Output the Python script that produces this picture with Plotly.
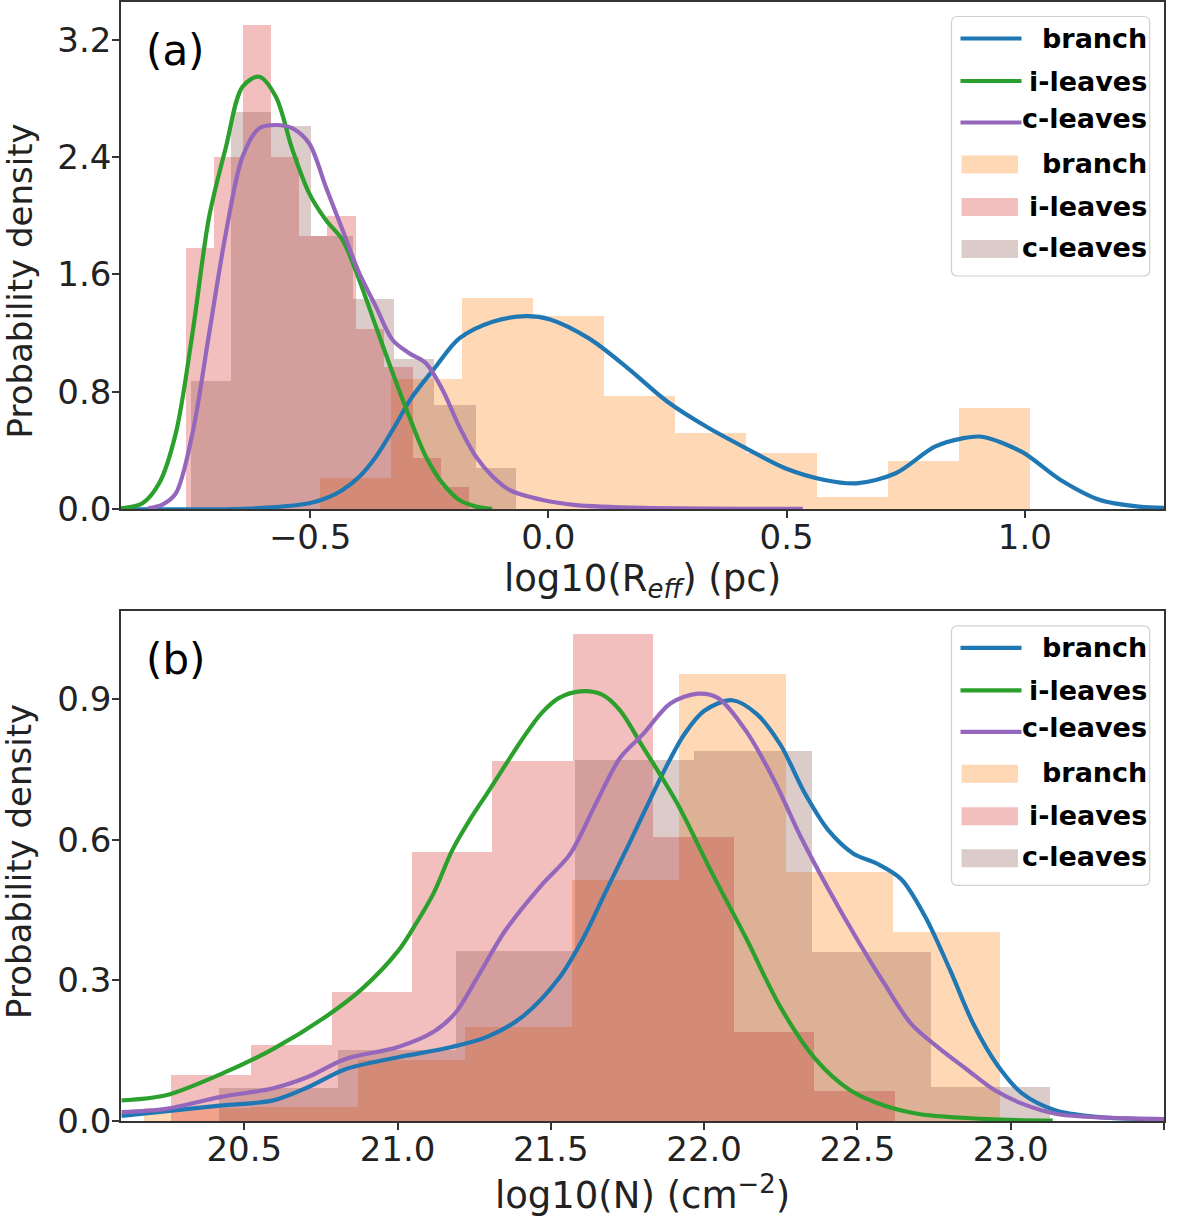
import plotly.graph_objects as go
from plotly.subplots import make_subplots

# ---- panel (a): log10(R_eff) [pc] ----
reff_branch_edges = [-0.480, -0.331, -0.182, -0.033, 0.116, 0.265, 0.414, 0.563, 0.712, 0.861, 1.010]
reff_branch_dens = [0.21, 0.89, 1.44, 1.32, 0.77, 0.52, 0.38, 0.08, 0.33, 0.69]
reff_ileaves_edges = [-0.761, -0.702, -0.642, -0.583, -0.523, -0.464, -0.404, -0.345, -0.285, -0.225, -0.166]
reff_ileaves_dens = [1.78, 2.40, 3.30, 2.40, 1.86, 2.00, 1.23, 0.97, 0.35, 0.15]
reff_cleaves_edges = [-0.751, -0.667, -0.583, -0.499, -0.411, -0.324, -0.240, -0.152, -0.068]
reff_cleaves_dens = [0.87, 2.71, 2.61, 1.86, 1.43, 1.02, 0.71, 0.28]

reff_branch_kde_x = [-0.897, -0.628, -0.502, -0.467, -0.432, -0.397, -0.362, -0.327, -0.288, -0.239, -0.187,
                     -0.117, -0.047, 0.002, 0.085, 0.167, 0.250, 0.332, 0.415, 0.497, 0.580, 0.646, 0.729,
                     0.811, 0.869, 0.910, 0.993, 1.075, 1.158, 1.240, 1.292]
reff_branch_kde_y = [0.0, 0.003, 0.039, 0.073, 0.130, 0.220, 0.357, 0.539, 0.755, 0.960, 1.164,
                     1.278, 1.316, 1.295, 1.164, 0.960, 0.732, 0.561, 0.414, 0.278, 0.198, 0.175, 0.244,
                     0.425, 0.482, 0.493, 0.391, 0.198, 0.061, 0.016, 0.007]
reff_ileaves_kde_x = [-0.897, -0.852, -0.817, -0.782, -0.747, -0.712, -0.677, -0.642, -0.607, -0.572, -0.537,
                      -0.502, -0.467, -0.432, -0.397, -0.362, -0.327, -0.292, -0.257, -0.222, -0.187, -0.152,
                      -0.118]
reff_ileaves_kde_y = [0.005, 0.039, 0.175, 0.516, 1.198, 1.994, 2.466, 2.881, 2.949, 2.813, 2.449,
                      2.153, 1.971, 1.835, 1.563, 1.245, 0.930, 0.630, 0.357, 0.175, 0.061, 0.016,
                      0.0]
reff_cleaves_kde_x = [-0.840, -0.810, -0.782, -0.747, -0.712, -0.677, -0.642, -0.607, -0.572, -0.537, -0.502,
                      -0.467, -0.432, -0.397, -0.362, -0.327, -0.292, -0.257, -0.222, -0.187, -0.152, -0.117,
                      -0.082, -0.012, 0.058, 0.200, 0.534]
reff_cleaves_kde_y = [0.005, 0.030, 0.106, 0.516, 1.198, 1.880, 2.403, 2.597, 2.620, 2.597, 2.494,
                      2.197, 1.903, 1.609, 1.381, 1.153, 1.063, 0.995, 0.812, 0.562, 0.357, 0.221,
                      0.130, 0.061, 0.027, 0.008, 0.001]

# ---- panel (b): log10(N) [cm^-2] ----
ncol_branch_edges = [20.172, 20.521, 20.870, 21.219, 21.568, 21.917, 22.266, 22.615, 22.964]
ncol_branch_dens = [0.028, 0.030, 0.130, 0.200, 0.514, 0.954, 0.530, 0.403]
ncol_ileaves_edges = [20.260, 20.522, 20.785, 21.047, 21.309, 21.572, 21.834, 22.096, 22.359, 22.621]
ncol_ileaves_dens = [0.098, 0.162, 0.275, 0.574, 0.767, 1.038, 0.605, 0.190, 0.063]
ncol_cleaves_edges = [20.418, 20.805, 21.192, 21.579, 21.966, 22.353, 22.740, 23.127]
ncol_cleaves_dens = [0.070, 0.150, 0.363, 0.770, 0.790, 0.361, 0.072]

ncol_branch_kde_x = [20.1, 20.420, 20.595, 20.711, 20.828, 21.002, 21.177, 21.294, 21.410, 21.527, 21.608,
                     21.678, 21.760, 21.867, 21.935, 22.002, 22.092, 22.171, 22.249, 22.328, 22.407, 22.486,
                     22.565, 22.643, 22.722, 22.801, 22.879, 22.958, 23.037, 23.150, 23.318, 23.5]
ncol_branch_kde_y = [0.011, 0.033, 0.044, 0.073, 0.110, 0.136, 0.158, 0.180, 0.224, 0.305, 0.393,
                     0.488, 0.598, 0.744, 0.825, 0.876, 0.898, 0.869, 0.803, 0.700, 0.619, 0.571,
                     0.549, 0.516, 0.435, 0.324, 0.206, 0.118, 0.059, 0.022, 0.007, 0.004]
ncol_ileaves_kde_x = [20.1, 20.245, 20.420, 20.595, 20.769, 20.886, 21.002, 21.061, 21.119, 21.177, 21.235,
                      21.294, 21.352, 21.410, 21.469, 21.527, 21.597, 21.667, 21.725, 21.795, 21.912, 22.025,
                      22.137, 22.249, 22.362, 22.475, 22.587, 22.700, 22.924, 23.137]
ncol_ileaves_kde_y = [0.044, 0.055, 0.099, 0.154, 0.224, 0.283, 0.363, 0.422, 0.488, 0.576, 0.642,
                      0.701, 0.760, 0.818, 0.870, 0.903, 0.917, 0.910, 0.877, 0.804, 0.678, 0.530,
                      0.390, 0.243, 0.133, 0.066, 0.033, 0.015, 0.004, 0.001]
ncol_cleaves_kde_x = [20.1, 20.245, 20.420, 20.595, 20.711, 20.828, 21.002, 21.119, 21.189, 21.259, 21.352,
                      21.469, 21.562, 21.643, 21.725, 21.800, 21.890, 21.980, 22.047, 22.137, 22.227, 22.317,
                      22.407, 22.497, 22.587, 22.677, 22.767, 22.857, 22.947, 23.037, 23.150, 23.318, 23.5]
ncol_cleaves_kde_y = [0.019, 0.026, 0.051, 0.070, 0.095, 0.132, 0.158, 0.191, 0.231, 0.305, 0.407,
                      0.503, 0.569, 0.672, 0.774, 0.825, 0.891, 0.912, 0.902, 0.832, 0.729, 0.604,
                      0.493, 0.390, 0.294, 0.206, 0.155, 0.110, 0.066, 0.037, 0.015, 0.007, 0.004]

names = ['branch', 'i-leaves', 'c-leaves']
line_colors = ['#1f77b4', '#2ca02c', '#9467bd']
hist_colors = ['rgba(255,127,14,0.3)', 'rgba(214,39,40,0.3)', 'rgba(140,86,75,0.3)']
FONT = 'DejaVu Sans'
LW = 4.2

W, H = 1200, 1220
L, R, T, B = 121, 36, 2, 99
# pixel rows of each panel (top spine, bottom spine)
panels = [(2, 509), (611.3, 1121)]

fig = make_subplots(rows=2, cols=1)


def add_panel(row, hists, kdes):
    for (edges, dens), color, name in zip(hists, hist_colors, names):
        centers = [(a + b) / 2 for a, b in zip(edges[:-1], edges[1:])]
        widths = [b - a for a, b in zip(edges[:-1], edges[1:])]
        fig.add_trace(go.Bar(x=centers, y=dens, width=widths, name=name,
                             marker=dict(color=color, line=dict(width=0)),
                             showlegend=False), row=row, col=1)
    for (kx, ky), color, name in zip(kdes, line_colors, names):
        fig.add_trace(go.Scatter(x=kx, y=ky, mode='lines', name=name,
                                 line=dict(color=color, width=LW, shape='spline', smoothing=0.9),
                                 showlegend=False), row=row, col=1)


add_panel(1,
          [(reff_branch_edges, reff_branch_dens), (reff_ileaves_edges, reff_ileaves_dens),
           (reff_cleaves_edges, reff_cleaves_dens)],
          [(reff_branch_kde_x, reff_branch_kde_y), (reff_ileaves_kde_x, reff_ileaves_kde_y),
           (reff_cleaves_kde_x, reff_cleaves_kde_y)])
add_panel(2,
          [(ncol_branch_edges, ncol_branch_dens), (ncol_ileaves_edges, ncol_ileaves_dens),
           (ncol_cleaves_edges, ncol_cleaves_dens)],
          [(ncol_branch_kde_x, ncol_branch_kde_y), (ncol_ileaves_kde_x, ncol_ileaves_kde_y),
           (ncol_cleaves_kde_x, ncol_cleaves_kde_y)])

plot_h = H - T - B
plot_w = W - L - R
ydom_top = [1 - (panels[0][1] - T) / plot_h, 1]
ydom_bot = [0, 1 - (panels[1][0] - T) / plot_h]

axis_style = dict(showline=True, mirror=True, linecolor='#333333', linewidth=1.5,
                  ticks='outside', ticklen=7, tickwidth=1.5, tickcolor='#333333',
                  showgrid=False, zeroline=False, automargin=False,
                  tickfont=dict(family=FONT, size=34, color='#222222'))
xtitle_font = dict(family=FONT, size=37, color='#222222')

fig.update_layout(
    width=W, height=H,
    margin=dict(l=L, r=R, t=T, b=B),
    barmode='overlay', bargap=0,
    plot_bgcolor='white', paper_bgcolor='white',
    showlegend=False,
    font=dict(family=FONT, color='#222222'),
    xaxis=dict(axis_style, domain=[0, 1], range=[-0.897, 1.292], ticklabelstandoff=-10,
               tickvals=[-0.5, 0.0, 0.5, 1.0], ticktext=['\u22120.5', '0.0', '0.5', '1.0'],
               title=dict(text='log10(R<sub><i>eff</i></sub>) (pc)', standoff=9, font=xtitle_font)),
    yaxis=dict(axis_style, domain=ydom_top, range=[0, 3.459], ticklabelstandoff=-6,
               tickvals=[0.0, 0.8, 1.6, 2.4, 3.2], ticktext=['0.0', '0.8', '1.6', '2.4', '3.2']),
    xaxis2=dict(axis_style, domain=[0, 1], range=[20.098, 23.5], ticklabelstandoff=-10,
                tickvals=[20.5, 21.0, 21.5, 22.0, 22.5, 23.0, 23.5],
                ticktext=['20.5', '21.0', '21.5', '22.0', '22.5', '23.0', '23.5'],
                title=dict(text='log10(N) (cm<sup>\u22122</sup>)', standoff=9, font=xtitle_font)),
    yaxis2=dict(axis_style, domain=ydom_bot, range=[0, 1.0878], ticklabelstandoff=-6,
                tickvals=[0.0, 0.3, 0.6, 0.9], ticktext=['0.0', '0.3', '0.6', '0.9']),
)

# hand-built legends (matplotlib style), panel tags and y titles
shapes = []
annotations = []
ytitle_rows = [281.5, 862]
for i, (top_px, bot_px) in enumerate(panels):
    xr = 'x domain' if i == 0 else 'x2 domain'
    yr = 'y domain' if i == 0 else 'y2 domain'
    ph = bot_px - top_px

    def fx(px):
        return (px - L) / plot_w

    def fy(off):
        return 1 - off / ph

    # legend frame with rounded corners
    x0, x1, y0, y1 = fx(951.5), fx(1149.7), fy(14.5), fy(274)
    rx, ry = 6 / plot_w, 6 / ph
    path = (f'M{x0 + rx},{y0} L{x1 - rx},{y0} Q{x1},{y0} {x1},{y0 - ry} '
            f'L{x1},{y1 + ry} Q{x1},{y1} {x1 - rx},{y1} L{x0 + rx},{y1} '
            f'Q{x0},{y1} {x0},{y1 + ry} L{x0},{y0 - ry} Q{x0},{y0} {x0 + rx},{y0} Z')
    shapes.append(dict(type='path', path=path, xref=xr, yref=yr, layer='above',
                       fillcolor='rgba(255,255,255,0.8)', line=dict(color='#d0d0d0', width=1.2)))
    line_rows = [36.5, 79, 120.5]
    patch_rows = [162.5, 205, 247]
    text_rows = [36, 79, 116.5, 161, 204, 245.5]
    for yoff, color in zip(line_rows, line_colors):
        shapes.append(dict(type='line', xref=xr, yref=yr, layer='above',
                           x0=fx(960.5), x1=fx(1021.5), y0=fy(yoff), y1=fy(yoff),
                           line=dict(color=color, width=LW)))
    for yoff, color in zip(patch_rows, hist_colors):
        shapes.append(dict(type='rect', xref=xr, yref=yr, layer='above',
                           x0=fx(961.5), x1=fx(1018), y0=fy(yoff - 9), y1=fy(yoff + 9),
                           fillcolor=color, line=dict(width=0)))
    for yoff, label in zip(text_rows, names + names):
        annotations.append(dict(text=f'<b>{label}</b>', xref=xr, yref=yr, x=fx(1149), y=fy(yoff),
                                xanchor='right', yanchor='middle', showarrow=False,
                                font=dict(family=FONT, size=27, color='black')))
    annotations.append(dict(text='(a)' if i == 0 else '(b)', xref=xr, yref=yr,
                            x=fx(144), y=fy(48), xanchor='left', yanchor='middle', showarrow=False,
                            font=dict(family=FONT, size=42, color='black')))
    annotations.append(dict(text='Probability density', xref='paper', yref='paper',
                            x=(19 - L) / plot_w, y=1 - (ytitle_rows[i] - T) / plot_h,
                            xanchor='center', yanchor='middle', textangle=-90, showarrow=False,
                            font=dict(family=FONT, size=34, color='#222222')))

fig.update_layout(shapes=shapes, annotations=annotations)

# page body has a default 8px margin; drop it so the figure sits at the window origin
fig.write_html('out.html', config={'displayModeBar': False},
               post_script="document.body.style.margin='0';")
